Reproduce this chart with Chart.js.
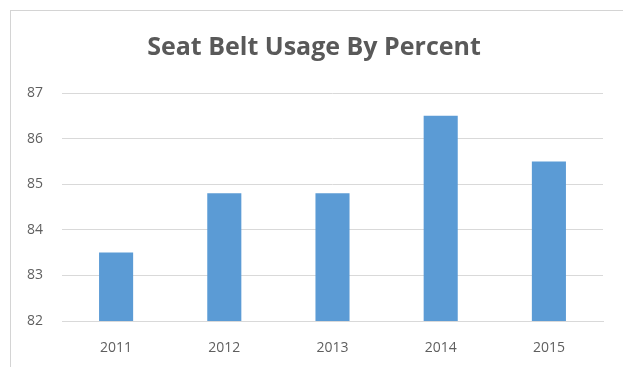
<!DOCTYPE html>
<html>
<head>
<meta charset="utf-8">
<script src="https://cdn.jsdelivr.net/npm/chart.js@4"></script>
<style>
  html, body { margin: 0; padding: 0; background: #fff; }
  #wrap { position: relative; width: 623px; height: 367px; overflow: hidden; }
  #frame {
    position: absolute; left: 10px; top: 10px; width: 640px; height: 400px;
    border-left: 1px solid #d4d4d4; border-top: 1px solid #d4d4d4;
  }
  #grafica { position: absolute; left: 25px; top: 0; }
</style>
</head>
<body>
<div id="wrap">
  <div id="frame"></div>
  <canvas id="grafica" width="598" height="367"></canvas>
</div>
<script>
const years = ['2011', '2012', '2013', '2014', '2015'];
const usage = [83.5, 84.8, 84.8, 86.5, 85.5];
const yTicks = [82, 83, 84, 85, 86, 87];

const graph = document.querySelector('#grafica');

const data = {
  labels: years,
  datasets: [{
    label: 'Seat Belt Usage',
    data: usage,
    backgroundColor: '#5b9bd5',
    barPercentage: 0.63,
    categoryPercentage: 0.5
  }]
};

const config = {
  type: 'bar',
  data: data,
  options: {
    responsive: false,
    animation: false,
    layout: { padding: { left: 0, right: 20, top: 33, bottom: 0 } },
    plugins: {
      legend: { display: false },
      tooltip: { enabled: false },
      title: {
        display: true,
        text: 'Seat Belt Usage By Percent',
        color: '#595959',
        font: { family: 'Open Sans', size: 25, weight: 'bold' },
        padding: { top: 0, bottom: 30 }
      }
    },
    scales: {
      x: {
        grid: { display: false },
        border: { color: '#d9d9d9' },
        ticks: {
          color: '#5f5f5f',
          font: { family: 'Open Sans', size: 14, lineHeight: 1 },
          padding: 12
        }
      },
      y: {
        min: 82,
        max: 87,
        afterBuildTicks: axis => { axis.ticks = yTicks.map(v => ({ value: v })); },
        // fixed axis width so the plot starts at the same x every time
        afterFit: axis => { axis.width = 37; },
        border: { display: false },
        grid: { color: '#d9d9d9', drawTicks: false },
        ticks: {
          color: '#5f5f5f',
          font: { family: 'Open Sans', size: 14 },
          padding: 19
        }
      }
    }
  }
};
new Chart(graph, config);
</script>
</body>
</html>
